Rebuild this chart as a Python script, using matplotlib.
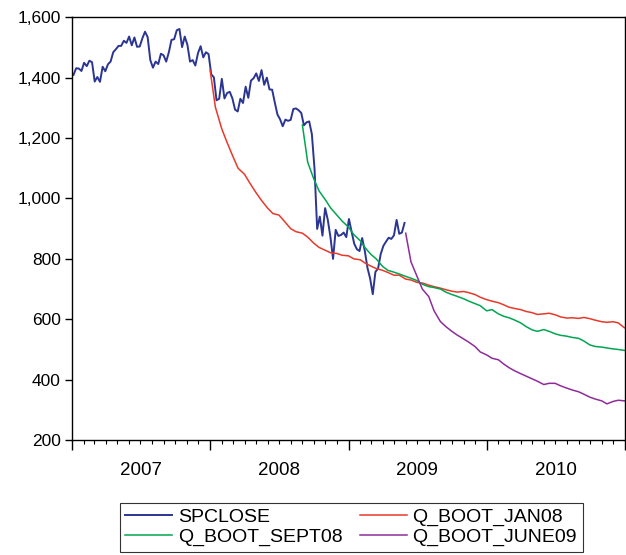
import numpy as np
import pandas as pd
import matplotlib
matplotlib.use("Agg")
import matplotlib.pyplot as plt
import matplotlib.dates as mdates
from matplotlib.ticker import FuncFormatter

plt.rcParams['font.family'] = ['Liberation Sans', 'DejaVu Sans']

# S&P 500 close, weekly (Fridays) Jan 2007 - May 2009
sp_dates = pd.date_range('2007-01-05', '2009-05-29', freq='W-FRI')
spclose = [
    1409, 1431, 1430, 1422, 1449, 1438, 1456, 1451, 1387, 1402, 1386, 1436, 1421,
    1444, 1453, 1484, 1494, 1505, 1505, 1522, 1515, 1536, 1507, 1533, 1502, 1503,
    1530, 1552, 1534, 1458, 1433, 1453, 1445, 1479, 1474, 1453, 1484, 1525, 1527,
    1557, 1561, 1501, 1536, 1509, 1453, 1458, 1440, 1481, 1504, 1467, 1484, 1478,
    # 2008
    1411, 1401, 1325, 1330, 1396, 1331, 1349, 1353, 1331, 1294, 1288, 1330, 1316,
    1370, 1333, 1390, 1398, 1414, 1389, 1425, 1376, 1400, 1361, 1360, 1318, 1278,
    1262, 1239, 1261, 1257, 1260, 1296, 1298, 1292, 1283, 1242, 1252, 1255, 1213,
    1099, 899, 940, 877, 968, 930, 873, 800, 896, 876, 879, 887, 872,
    # 2009
    932, 890, 850, 832, 826, 869, 826, 770, 735, 683, 757, 768, 816,
    843, 857, 870, 866, 878, 929, 883, 887, 919,
]


def semi_monthly(start):
    d = list(pd.date_range(start, '2010-12-15', freq='SMS'))
    return d + [pd.Timestamp('2010-12-31')]


jan08_dates = semi_monthly('2008-01-01')
q_boot_jan08 = [
    1425, 1302, 1230, 1185, 1140, 1100, 1080, 1051, 1020, 995, 968, 950,
    945, 925, 900, 890, 885, 872, 852, 838, 828, 820, 818, 812,
    810, 800, 797, 785, 776, 768, 762, 755, 746, 746, 733, 730,
    722, 720, 713, 708, 703, 698, 693, 690, 692, 688, 682, 673,
    665, 660, 655, 648, 640, 636, 632, 626, 622, 616, 618, 620,
    615, 608, 604, 605, 603, 606, 602, 597, 592, 590, 592, 588,
    572,
]

sept08_dates = semi_monthly('2008-09-01')
q_boot_sept08 = [
    1243, 1120, 1065, 1025, 995, 968, 945, 925,
    905, 880, 860, 835, 815, 800, 775, 762, 756, 750, 742, 736,
    728, 716, 708, 705, 700, 690, 682, 676, 668, 660, 652, 645,
    628, 632, 618, 610, 605, 598, 588, 576, 565, 560, 566, 560,
    552, 547, 544, 540, 537, 528, 515, 510, 508, 505, 502, 500,
    497,
]

june09_dates = semi_monthly('2009-06-01')
q_boot_june09 = [
    885, 790, 742, 700, 675, 628, 592, 576, 560, 548, 535, 524, 510, 492,
    482, 471, 466, 452, 440, 430, 420, 412, 403, 395, 384, 388,
    388, 380, 372, 366, 360, 352, 342, 336, 330, 320, 328, 332,
    330,
]

fig = plt.figure(figsize=(6.26, 5.55), dpi=100)
ax = fig.add_axes([0.115, 0.207, 0.883, 0.762])

ax.plot(sp_dates, spclose, color='#2B3592', lw=1.4, label='SPCLOSE')
ax.plot(jan08_dates, q_boot_jan08, color='#E8392A', lw=1.1, label='Q_BOOT_JAN08')
ax.plot(sept08_dates, q_boot_sept08, color='#00A651', lw=1.1, label='Q_BOOT_SEPT08')
ax.plot(june09_dates, q_boot_june09, color='#8E2C9A', lw=1.1, label='Q_BOOT_JUNE09')

ax.set_xlim(pd.Timestamp('2007-01-01'), pd.Timestamp('2011-01-01'))
ax.set_ylim(200, 1600)
ax.set_yticks(np.arange(200, 1601, 200))
ax.yaxis.set_major_formatter(FuncFormatter(lambda v, p: f'{int(v):,}'))

ax.xaxis.set_major_locator(mdates.YearLocator())
ax.xaxis.set_minor_locator(mdates.MonthLocator())
ax.xaxis.set_major_formatter(FuncFormatter(lambda v, p: ''))
ax.tick_params(axis='x', which='major', direction='out', length=7, width=1)
ax.tick_params(axis='x', which='minor', direction='out', length=3, width=0.8)
ax.tick_params(axis='y', direction='out', length=5, width=1, labelsize=12.5, pad=3)

for yr in [2007, 2008, 2009, 2010]:
    ax.text(pd.Timestamp(f'{yr}-07-02'), -0.052, str(yr), fontsize=13.5,
            ha='center', va='top', transform=ax.get_xaxis_transform())

for s in ax.spines.values():
    s.set_linewidth(1.0)
    s.set_color('black')

handles, labels = ax.get_legend_handles_labels()
order = [0, 2, 1, 3]
leg = fig.legend([handles[i] for i in order], [labels[i] for i in order],
                 ncol=2, loc='upper center', bbox_to_anchor=(0.561, 0.094),
                 borderaxespad=0, fontsize=14, frameon=True, fancybox=False,
                 edgecolor='black', handlelength=2.4, handletextpad=0.3,
                 columnspacing=0.9, borderpad=0.3, labelspacing=0.1)
leg.get_frame().set_linewidth(0.8)

fig.savefig('out.png', dpi=100)
